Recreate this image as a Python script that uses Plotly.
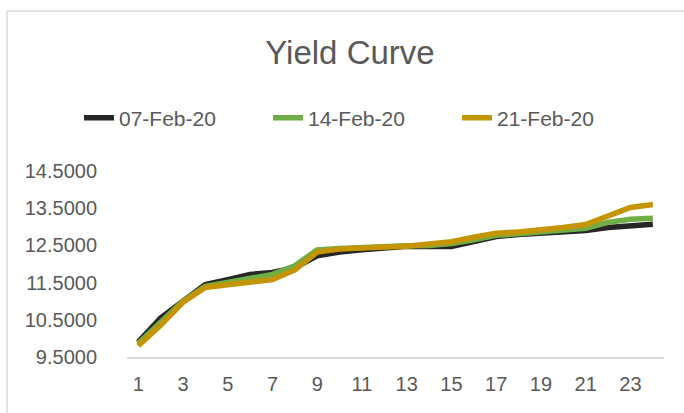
import plotly.graph_objects as go

tenor = list(range(1, 25))
tick_vals = list(range(1, 24, 2))
tick_text = [str(v) for v in tick_vals]
y_ticks = [9.5, 10.5, 11.5, 12.5, 13.5, 14.5]
y_tick_text = ["9.5000", "10.5000", "11.5000", "12.5000", "13.5000", "14.5000"]

feb07 = [9.90, 10.55, 11.00, 11.45, 11.58, 11.72, 11.77, 11.90, 12.22, 12.32, 12.38, 12.43,
         12.48, 12.47, 12.47, 12.60, 12.74, 12.79, 12.83, 12.87, 12.90, 12.98, 13.04, 13.07]
feb14 = [9.86, 10.45, 11.00, 11.40, 11.50, 11.63, 11.72, 11.95, 12.38, 12.42, 12.45, 12.47,
         12.49, 12.50, 12.55, 12.65, 12.77, 12.81, 12.87, 12.91, 12.96, 13.12, 13.20, 13.23]
feb21 = [9.80, 10.35, 10.97, 11.37, 11.44, 11.50, 11.58, 11.84, 12.32, 12.40, 12.44, 12.46,
         12.48, 12.53, 12.60, 12.72, 12.83, 12.86, 12.91, 12.98, 13.06, 13.30, 13.52, 13.60]

series = [("07-Feb-20", feb07, "#262626"),
          ("14-Feb-20", feb14, "#70ad47"),
          ("21-Feb-20", feb21, "#c49500")]

FONT = "Liberation Sans"
GREY = "#595959"

fig = go.Figure()
for name, vals, col in series:
    fig.add_trace(go.Scatter(x=tenor, y=vals, name=name, mode="lines",
                             line=dict(color=col, width=5.5)))

W, H = 684, 413
L, R, T, B = 127, 20, 171, 56
pw, ph = W - L - R, H - T - B

def px(x):
    return (x - L) / pw

def py(y):
    return (H - B - y) / ph

fig.update_layout(
    width=W, height=H,
    margin=dict(l=L, r=R, t=T, b=B, autoexpand=False),
    paper_bgcolor="white", plot_bgcolor="white",
    font=dict(family=FONT, color=GREY, size=20),
    title=dict(text="Yield Curve", x=px(350), xanchor="center", y=1 - 52 / H, yanchor="middle",
               xref="paper", yref="container",
               font=dict(family=FONT, size=33, color=GREY)),
    showlegend=True,
    legend=dict(orientation="h", x=px(79), xanchor="left", y=py(118), yanchor="middle",
                font=dict(family=FONT, size=21, color=GREY),
                entrywidth=144, entrywidthmode="pixels", itemwidth=30,
                bgcolor="rgba(0,0,0,0)", traceorder="normal"),
    xaxis=dict(range=[0.5, 24.5], tickmode="array", tickvals=tick_vals, ticktext=tick_text,
               showgrid=False, zeroline=False, showline=True, linecolor="#d9d9d9", linewidth=1.5,
               ticks="", ticklabelstandoff=8, tickfont=dict(size=20, color=GREY)),
    yaxis=dict(range=[9.5, 14.5], tickmode="array", tickvals=y_ticks, ticktext=y_tick_text,
               showgrid=False, zeroline=False, showline=False, ticks="",
               ticklabelstandoff=29, tickfont=dict(size=20, color=GREY)),
    shapes=[
        dict(type="line", xref="paper", yref="paper", x0=px(7), x1=px(7), y0=py(420), y1=py(11),
             line=dict(color="#d9d9d9", width=1.5)),
        dict(type="line", xref="paper", yref="paper", x0=px(7), x1=px(690), y0=py(11), y1=py(11),
             line=dict(color="#d9d9d9", width=1.5)),
    ],
)

fig.write_html("out.html", config={"displayModeBar": False},
               post_script="document.body.style.margin='0';")
